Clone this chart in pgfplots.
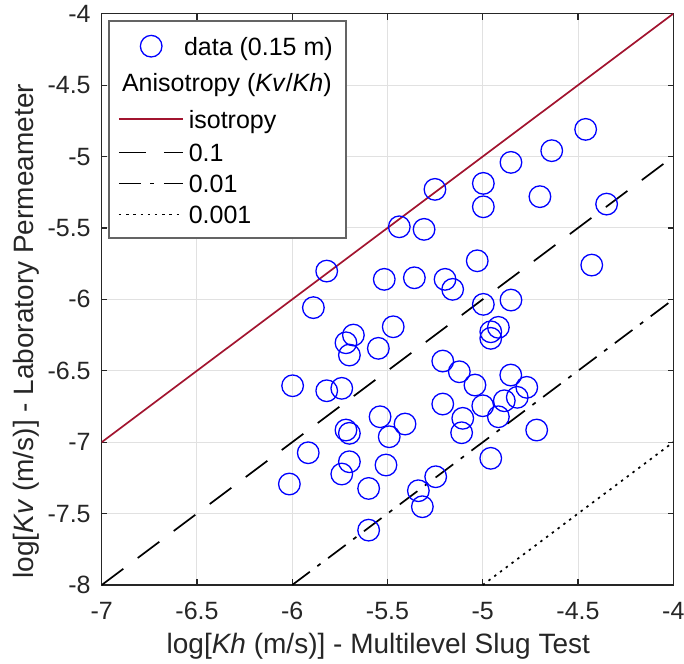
\documentclass[border=0pt]{standalone}
\usepackage{fontspec}
\setmainfont{Liberation Sans}
\usepackage{pgfplots}
\usepackage{pgfplotstable}
\pgfplotsset{compat=1.18}

\definecolor{isored}{RGB}{162,20,47}
\definecolor{axisgray}{RGB}{38,38,38}
\definecolor{gridgray}{RGB}{225,225,225}
\definecolor{legframe}{RGB}{100,100,100}

\pgfplotsset{
  wide line legend/.style={legend image code/.code={\draw[##1] (0pt,0pt) -- (32.2pt,0pt);}},
  centred mark legend/.style={legend image code/.code={\draw[##1] plot coordinates {(16.1pt,0pt)};}},
}

% log10 hydraulic conductivity: slug test (Kh) vs. permeameter (Kv), 0.15 m samples
\pgfplotstableread{
kh      kv
-4.460  -4.810
-4.638  -4.959
-4.350  -5.333
-4.852  -5.041
-4.700  -5.281
-4.997  -5.188
-4.997  -5.352
-5.251  -5.230
-5.438  -5.492
-5.308  -5.510
-4.428  -5.760
-5.029  -5.730
-5.819  -5.802
-5.517  -5.860
-5.359  -5.849
-5.198  -5.860
-5.158  -5.930
-5.889  -6.058
-4.997  -6.035
-4.852  -6.005
-5.470  -6.192
-4.918  -6.196
-4.958  -6.227
-4.958  -6.273
-5.679  -6.250
-5.718  -6.304
-5.700  -6.390
-5.548  -6.343
-5.998  -6.605
-5.819  -6.640
-5.740  -6.623
-5.210  -6.432
-5.123  -6.507
-4.853  -6.530
-5.041  -6.600
-4.819  -6.686
-4.769  -6.616
-5.210  -6.733
-5.000  -6.745
-4.887  -6.710
-5.105  -6.833
-4.918  -6.822
-5.111  -6.934
-5.539  -6.822
-5.408  -6.873
-5.718  -6.915
-5.700  -6.938
-5.491  -6.962
-4.717  -6.915
-5.916  -7.074
-5.700  -7.137
-5.740  -7.223
-5.508  -7.160
-4.958  -7.113
-6.015  -7.293
-5.599  -7.324
-5.247  -7.242
-5.338  -7.340
-5.317  -7.452
-5.599  -7.616
}\slugdata

\begin{document}
\begin{tikzpicture}
\useasboundingbox (-50.85pt,-39pt) rectangle (291.15pt,292.5pt);
\begin{axis}[
  at={(0,0)}, anchor=south west,
  scale only axis, width=285.8pt, height=285.65pt,
  xmin=-7, xmax=-4, ymin=-8, ymax=-4,
  xtick={-7,-6.5,-6,-5.5,-5,-4.5,-4},
  ytick={-8,-7.5,-7,-6.5,-6,-5.5,-5,-4.5,-4},
  xticklabels={-7,-6.5,-6,-5.5,-5,-4.5,-4},
  yticklabels={-8,-7.5,-7,-6.5,-6,-5.5,-5,-4.5,-4},
  tick align=inside, tick pos=both, major tick length=2.9pt,
  grid=major, grid style={gridgray, line width=0.5pt},
  axis line style={axisgray, line width=0.6pt},
  every tick/.style={axisgray, line width=0.6pt},
  ticklabel style={font=\fontsize{12.5}{15}\selectfont, text=axisgray},
  xticklabel style={yshift=-5.2pt},
  yticklabel style={xshift=-2pt},
  xlabel={log[\textit{Kh} (m/s)] - Multilevel Slug Test},
  ylabel={log[\textit{Kv} (m/s)] - Laboratory Permeameter},
  label style={font=\fontsize{14}{17}\selectfont, text=axisgray},
  xlabel style={at={([xshift=-4.6pt,yshift=-34.2pt]axis description cs:0.5,0)}, anchor=base},
  ylabel style={at={([xshift=-34.2pt,yshift=-16pt]axis description cs:0,0.5)}, anchor=base},
  legend cell align=left,
  legend style={
    at={(axis description cs:0.0116,0.989)}, anchor=north west,
    draw=legframe, line width=0.8pt, fill=white,
    font=\fontsize{12.5}{15}\selectfont,
    inner xsep=4.5pt, inner ysep=7.3pt,
    row sep=6.5pt, column sep=2.3pt,
    nodes={inner xsep=0pt, inner ysep=0pt, text height=9pt, text depth=0pt},
  },
  wide line legend,
]
\addplot[only marks, mark=o, mark size=5.4pt, color=blue, mark options={line width=0.65pt}, centred mark legend]
  table[x=kh, y=kv] {\slugdata};
\addlegendentry{\hspace*{-2.4pt}data (0.15 m)\hspace*{2pt}}
\addlegendimage{empty legend}
\addlegendentry[text height=10.7pt, text depth=1.7pt]{\hspace*{-33.4pt}Anisotropy (\textit{Kv}/\textit{Kh})}

\addplot[isored, line width=0.85pt] coordinates {(-7,-7) (-4,-4)};
\addlegendentry[text height=10.2pt, text depth=1.2pt]{isotropy}
\addplot[black, line width=0.85pt, dash pattern=on 13.5pt off 9pt] coordinates {(-7,-8) (-4,-5)};
\addlegendentry{0.1}
\addplot[black, line width=0.85pt, dash pattern=on 11pt off 4.7pt on 2pt off 4.7pt] coordinates {(-6,-8) (-4,-6)};
\addlegendentry{0.01}
\addplot[black, line width=0.85pt, dash pattern=on 1.2pt off 2.4pt] coordinates {(-5,-8) (-4,-7)};
\addlegendentry{0.001}
\end{axis}
\end{tikzpicture}
\end{document}
